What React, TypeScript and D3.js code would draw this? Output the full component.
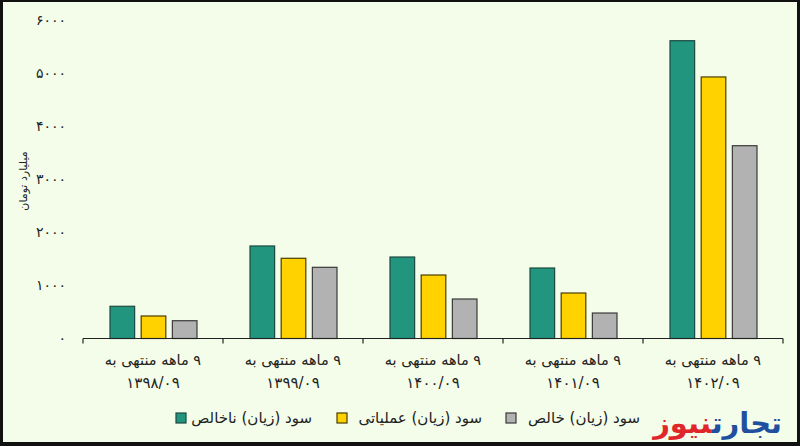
import React from 'react';
import * as d3 from 'd3';

const categories = ['۱۳۹۸/۰۹', '۱۳۹۹/۰۹', '۱۴۰۰/۰۹', '۱۴۰۱/۰۹', '۱۴۰۲/۰۹'];
const categoryPrefix = '۹ ماهه منتهی به';
const seriesNames = ['سود (زیان) ناخالص', 'سود (زیان) عملیاتی', 'سود (زیان) خالص'];
const grossProfit = [607, 1743, 1535, 1328, 5610];
const operatingProfit = [424, 1511, 1196, 857, 4927];
const netProfit = [335, 1341, 744, 480, 3632];
const yTicks = [0, 1000, 2000, 3000, 4000, 5000, 6000];
const yTitle = 'میلیارد تومان';
const logoBlue = 'تجارت';
const logoRed = 'نیوز';

const seriesValues = [grossProfit, operatingProfit, netProfit];
const fills = ['#22957f', '#ffd200', '#b2b2b2'];
const strokes = ['#1c4a41', '#4a3d00', '#3a3a3a'];

const W = 800;
const H = 446;
const FONT = '"DejaVu Sans", "Noto Sans", sans-serif';

const toPersian = (s: string) => s.replace(/[0-9]/g, (d) => '۰۱۲۳۴۵۶۷۸۹'[+d]);

export default function App() {
  const x0 = d3.scaleBand<string>().domain(categories).range([83, 783]).padding(0);
  const x1 = d3
    .scaleBand<number>()
    .domain(seriesNames.map((_, i) => i))
    .range([27, 114])
    .paddingInner(0.21)
    .paddingOuter(0);
  const y = d3.scaleLinear().domain([0, 6000]).range([338.5, 20]);
  const base = y(0);

  const tickXs = [...categories.map((c) => x0(c) as number), 783];
  const legendRight = [312, 482, 640];
  const legendSquare = [176, 337, 506];

  return (
    <svg
      width={W}
      height={H}
      style={{ position: 'fixed', left: 0, top: 0, display: 'block' }}
      fontFamily={FONT}
    >
      <rect x={0} y={0} width={W} height={H} fill="#f3fdea" />

      {/* y tick labels */}
      {yTicks.map((t) => (
        <text
          key={t}
          x={66}
          y={y(t)}
          dy="0.35em"
          textAnchor="end"
          fontSize={14}
          fill="#222"
        >
          {toPersian(String(t))}
        </text>
      ))}

      <text
        transform={`translate(23,181) rotate(-90)`}
        textAnchor="middle"
        dy="0.35em"
        fontSize={11}
        fill="#222"
        direction="rtl"
      >
        {yTitle}
      </text>

      {/* bars */}
      {categories.map((c, ci) => (
        <g key={c} transform={`translate(${x0(c)},0)`}>
          {seriesValues.map((vals, si) => (
            <rect
              key={si}
              x={x1(si)}
              y={y(vals[ci])}
              width={x1.bandwidth()}
              height={base - y(vals[ci])}
              fill={fills[si]}
              stroke={strokes[si]}
              strokeWidth={1.2}
            />
          ))}
        </g>
      ))}

      {/* x axis */}
      <line x1={83} x2={783} y1={base} y2={base} stroke="#222" strokeWidth={1.2} />
      {tickXs.map((tx, i) => (
        <line key={i} x1={tx} x2={tx} y1={base} y2={base + 5} stroke="#222" strokeWidth={1.2} />
      ))}

      {/* category labels */}
      {categories.map((c) => {
        const cx = (x0(c) as number) + x0.bandwidth() / 2;
        return (
          <g key={c}>
            <text x={cx} y={360} dy="0.35em" textAnchor="middle" direction="rtl" fontSize={14.5} fill="#222">
              {categoryPrefix}
            </text>
            <text x={cx} y={383} dy="0.35em" textAnchor="middle" fontSize={15} fill="#222">
              {c}
            </text>
          </g>
        );
      })}

      {/* legend */}
      {seriesNames.map((name, i) => (
        <text key={name} x={legendRight[i]} y={418} dy="0.35em" direction="rtl" textAnchor="start" fontSize={15} fill="#222">
          {name}
        </text>
      ))}
      {seriesNames.map((name, i) => (
        <rect
          key={'sq' + i}
          x={legendSquare[i]}
          y={413}
          width={10}
          height={10}
          fill={fills[i]}
          stroke={strokes[i]}
          strokeWidth={1.2}
        />
      ))}

      {/* logo */}
      <text x={782} y={433} direction="rtl" textAnchor="start" fontSize={29} fontWeight="bold" letterSpacing={-1}>
        <tspan fill="#1f4f9f">{logoBlue}</tspan>
        <tspan fill="#e0262b">{logoRed}</tspan>
      </text>

      {/* frame */}
      <rect x={0} y={0} width={W} height={2} fill="#111" />
      <rect x={0} y={0} width={3} height={H} fill="#111" />
      <rect x={W - 3} y={0} width={3} height={H} fill="#111" />
      <rect x={0} y={H - 4} width={W} height={4} fill="#111" />
    </svg>
  );
}
